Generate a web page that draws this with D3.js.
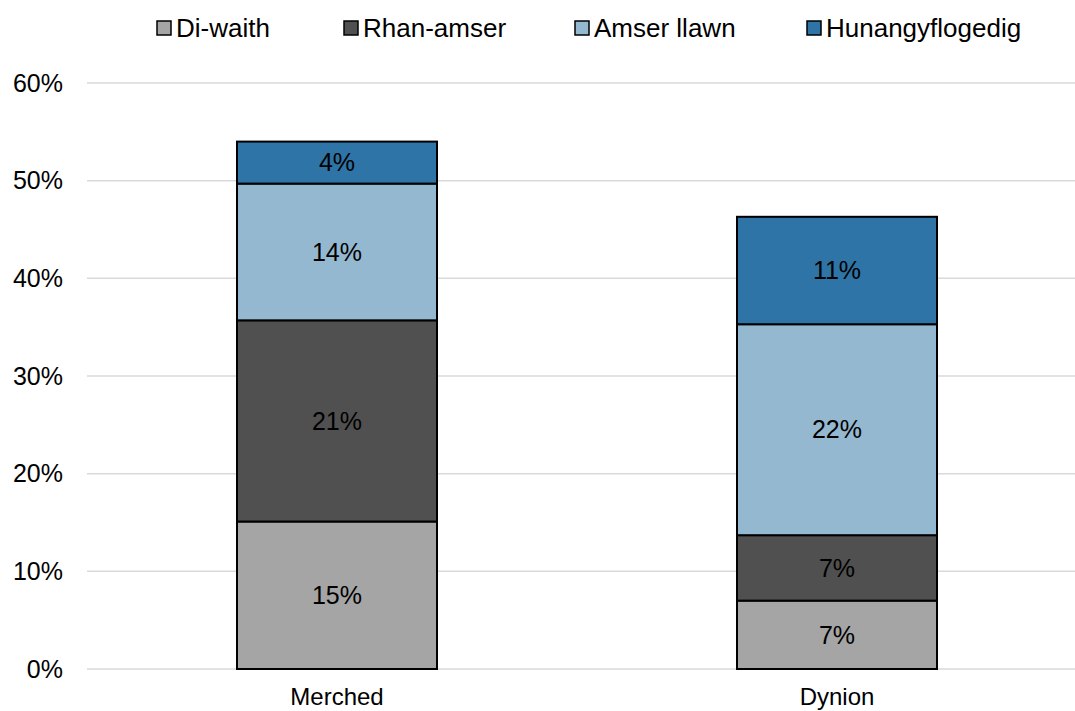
<!DOCTYPE html>
<html>
<head>
<meta charset="utf-8">
<script src="https://cdn.jsdelivr.net/npm/d3@7"></script>
<style>
  body { margin: 0; background: #fff; }
  svg { display: block; font-family: "Liberation Sans", Arial, sans-serif; }
</style>
</head>
<body>
<svg id="chart" width="1075" height="711"></svg>
<script>
// data
const categories = ["Merched", "Dynion"];
const seriesNames = ["Di-waith", "Rhan-amser", "Amser llawn", "Hunangyflogedig"];
const diWaith = [15.1, 7.0];
const rhanAmser = [20.6, 6.7];
const amserLlawn = [14.0, 21.6];
const hunangyflogedig = [4.3, 11.0];
const yTicks = [0, 10, 20, 30, 40, 50, 60];

const colors = ["#a5a5a5", "#505050", "#95b8d1", "#2e74a6"];

// table for d3.stack
const table = categories.map((c, i) => ({
    cat: c,
    "Di-waith": diWaith[i],
    "Rhan-amser": rhanAmser[i],
    "Amser llawn": amserLlawn[i],
    "Hunangyflogedig": hunangyflogedig[i]
}));

const svg = d3.select("#chart");

const x = d3.scaleBand()
    .domain(categories)
    .range([87, 1087])
    .paddingInner(0.6)
    .paddingOuter(0.3);

const y = d3.scaleLinear()
    .domain([0, 60])
    .range([669, 83]);

// gridlines
svg.append("g")
    .selectAll("line")
    .data(yTicks)
    .enter()
    .append("line")
    .attr("x1", 87)
    .attr("x2", 1075)
    .attr("y1", d => y(d))
    .attr("y2", d => y(d))
    .attr("stroke", "#d9d9d9")
    .attr("stroke-width", 1.5);

// y tick labels
svg.append("g")
    .selectAll("text")
    .data(yTicks)
    .enter()
    .append("text")
    .attr("x", 63)
    .attr("y", d => y(d))
    .attr("dy", "0.35em")
    .attr("text-anchor", "end")
    .attr("font-size", 25)
    .attr("fill", "#000")
    .text(d => d + "%");

const stack = d3.stack().keys(seriesNames);
const layers = stack(table);

const groups = svg.append("g")
    .selectAll("g")
    .data(layers)
    .enter()
    .append("g")
    .attr("fill", (d, i) => colors[i]);

groups.selectAll("rect")
    .data(d => d)
    .enter()
    .append("rect")
    .attr("x", d => x(d.data.cat))
    .attr("width", x.bandwidth())
    .attr("y", d => y(d[1]))
    .attr("height", d => y(d[0]) - y(d[1]))
    .attr("stroke", "#000")
    .attr("stroke-width", 2);

// value labels
groups.selectAll("text")
    .data(d => d.map(v => ({ v: v, key: d.key })))
    .enter()
    .append("text")
    .attr("x", d => x(d.v.data.cat) + x.bandwidth() / 2)
    .attr("y", d => (y(d.v[0]) + y(d.v[1])) / 2)
    .attr("dy", "0.35em")
    .attr("text-anchor", "middle")
    .attr("font-size", 25)
    .attr("fill", "#000")
    .text(d => Math.round(d.v.data[d.key]) + "%");

// category labels
svg.append("g")
    .selectAll("text")
    .data(categories)
    .enter()
    .append("text")
    .attr("x", d => x(d) + x.bandwidth() / 2)
    .attr("y", 705)
    .attr("text-anchor", "middle")
    .attr("font-size", 24)
    .attr("fill", "#000")
    .text(d => d);

// legend
const legendX = [157, 344, 575, 807];
const legend = svg.append("g")
    .selectAll("g")
    .data(seriesNames)
    .enter()
    .append("g")
    .attr("transform", (d, i) => "translate(" + legendX[i] + ",28)");

legend.append("rect")
    .attr("x", 0)
    .attr("y", -7)
    .attr("width", 14)
    .attr("height", 14)
    .attr("fill", (d, i) => colors[i])
    .attr("stroke", "#000")
    .attr("stroke-width", 1.5);

legend.append("text")
    .attr("x", 19)
    .attr("y", 0)
    .attr("dy", "0.35em")
    .attr("font-size", 26)
    .attr("fill", "#000")
    .text(d => d);
</script>
</body>
</html>
